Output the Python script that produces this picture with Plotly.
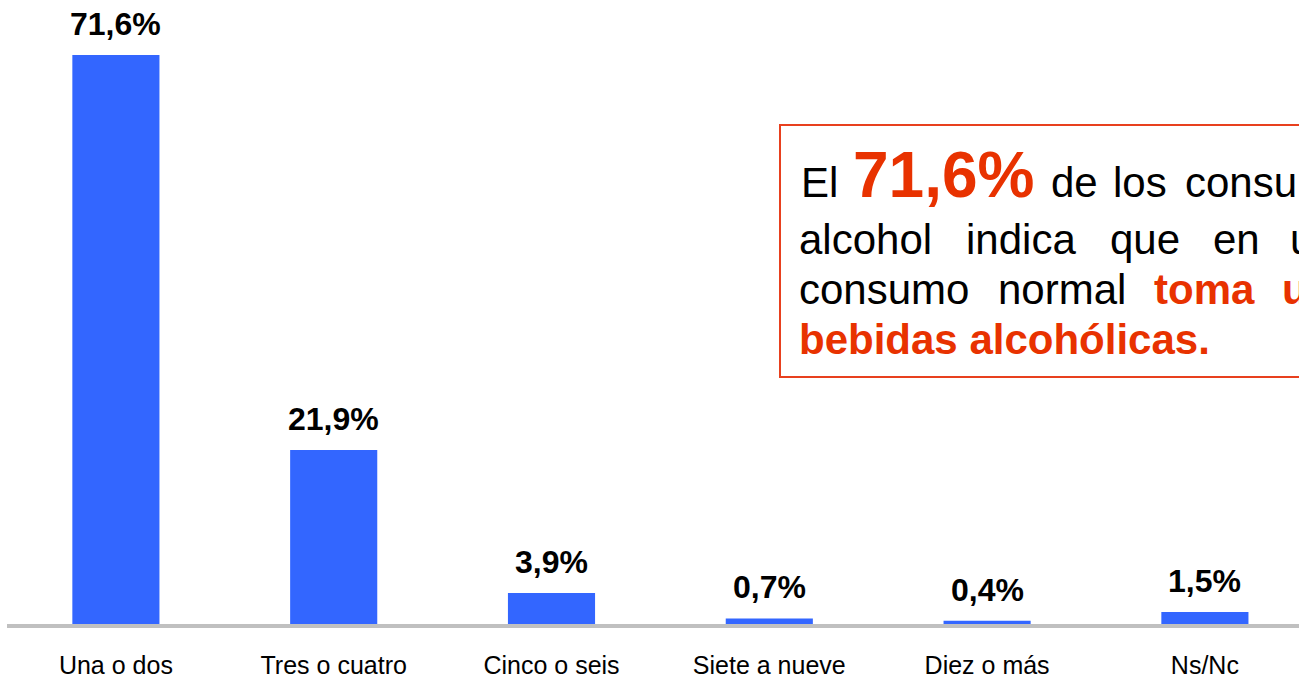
import plotly.graph_objects as go

categories = ["Una o dos", "Tres o cuatro", "Cinco o seis", "Siete a nueve", "Diez o más", "Ns/Nc"]
values = [71.6, 21.9, 3.9, 0.7, 0.4, 1.5]
value_labels = ["71,6%", "21,9%", "3,9%", "0,7%", "0,4%", "1,5%"]

W, H = 1299, 678
ML, MR, MT, MB = 7, 0, 0, 54
PW, PH = W - ML - MR, H - MT - MB
RED = "#E83200"
FONT = "Arial, Liberation Sans, sans-serif"

fig = go.Figure()
fig.add_trace(go.Bar(
    x=categories, y=values, width=0.4,
    marker=dict(color="#3366FF", line=dict(width=0)),
    hoverinfo="skip",
))

# value labels above bars
for c, v, t in zip(categories, values, value_labels):
    fig.add_annotation(x=c, y=v, text="<b>%s</b>" % t, showarrow=False,
                       yanchor="middle", yshift=31,
                       font=dict(family=FONT, size=32, color="#000000"))

def px_x(x):
    return (x - ML) / PW

def px_y(y):
    return (MT + PH - y) / PH

def word(text, x, baseline, size, bold=False, color="#000000"):
    cy = baseline - 0.3465 * size
    fig.add_annotation(xref="paper", yref="paper", x=px_x(x - 3), y=px_y(cy),
                       xanchor="left", yanchor="middle", showarrow=False,
                       text=("<b>%s</b>" % text) if bold else text,
                       font=dict(family=FONT, size=size, color=color))

# callout box
fig.add_shape(type="rect", xref="paper", yref="paper",
              x0=px_x(780), x1=px_x(1500), y0=px_y(377), y1=px_y(125),
              line=dict(color="#E8401E", width=2), fillcolor="rgba(0,0,0,0)")

# line 1
word("El", 802, 197, 42)
word("71,6%", 854, 197, 64, True, RED)
word("de", 1052, 197, 42)
word("los", 1114, 197, 42)
word("consumidores", 1186, 197, 42)
# line 2
word("alcohol", 800, 254, 42)
word("indica", 967, 254, 42)
word("que", 1111, 254, 42)
word("en", 1214, 254, 42)
word("un", 1291, 254, 42)
# line 3
word("consumo", 800, 304, 42)
word("normal", 999, 304, 42)
word("toma", 1155, 304, 42, True, RED)
word("una", 1283, 304, 42, True, RED)
# line 4
word("bebidas alcohólicas.", 800, 354, 42, True, RED)

fig.update_layout(
    width=W, height=H,
    margin=dict(l=ML, r=MR, t=MT, b=MB, pad=0, autoexpand=False),
    plot_bgcolor="white", paper_bgcolor="white",
    showlegend=False,
    font=dict(family=FONT, color="#000000"),
    xaxis=dict(range=[-0.5, -0.5 + PW / 217.8], showgrid=False, zeroline=False,
               showline=True, linecolor="#C0C0C0", linewidth=4,
               ticks="", ticklabelstandoff=16, automargin=False,
               tickfont=dict(family=FONT, size=25, color="#000000"),
               fixedrange=True),
    yaxis=dict(range=[0, PH / 7.947], visible=False, showgrid=False,
               zeroline=False, fixedrange=True, automargin=False),
)

fig.write_html("out.html", config={"displayModeBar": False},
               post_script="document.body.style.margin='0';document.body.style.overflow='hidden';")
